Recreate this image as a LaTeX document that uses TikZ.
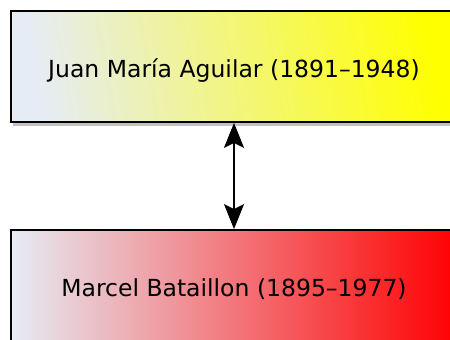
\documentclass[tikz,border=0pt]{standalone}
\usepackage{fontspec}
\setmainfont{DejaVu Sans}
\usetikzlibrary{shadows,arrows.meta}
\definecolor{lightside}{RGB}{230,236,245}
\tikzset{
  person/.style={draw=black, line width=1.8pt, minimum width=446pt, minimum height=111pt,
    inner sep=0pt, font=\fontsize{23.5}{28}\selectfont, text height=22pt, text depth=0pt,
    drop shadow={shadow xshift=1.5pt, shadow yshift=-4pt, opacity=0.35, fill=black!70}},
  link/.style={line width=1.8pt, {Stealth[length=25pt,width=20pt,inset=5pt]}-{Stealth[length=25pt,width=20pt,inset=5pt]}}
}
\begin{document}
\begin{tikzpicture}[x=1pt,y=1pt]
\useasboundingbox (0,0) rectangle (450,340);
\node[person, left color=lightside, right color=yellow, shading angle=100] (a) at (234,273.5) {Juan María Aguilar (1891–1948)};
\node[person, left color=lightside, right color=red] (b) at (234,54.5) {Marcel Bataillon (1895–1977)};
\draw[link] (a.south) -- (b.north);
\end{tikzpicture}
\end{document}
